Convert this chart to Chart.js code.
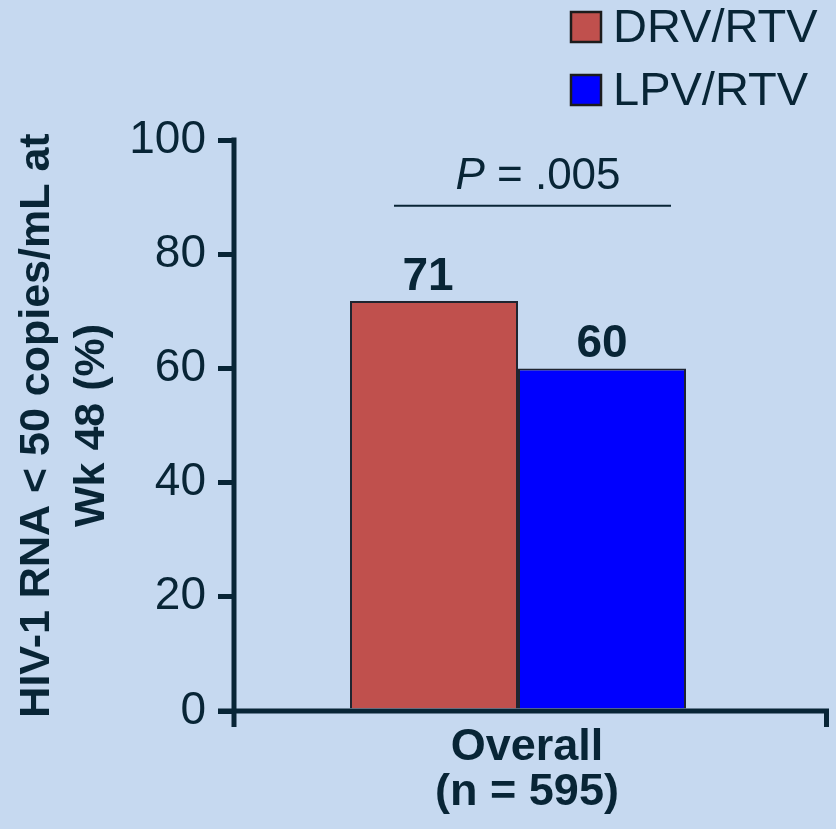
<!DOCTYPE html>
<html>
<head>
<meta charset="utf-8">
<script src="https://cdn.jsdelivr.net/npm/chart.js@4.4.1/dist/chart.umd.min.js"></script>
<style>
   html, body { margin: 0; padding: 0; background: #c6d9f0; }
   #wrap { width: 836px; height: 829px; }
</style>
</head>
<body>
<div id="wrap"><canvas id="chart"></canvas></div>
<script>
// values
const categories = [['Overall', '(n = 595)']];
const seriesNames = ['DRV/RTV', 'LPV/RTV'];
const drvValues = [71.8];
const lpvValues = [60];
const drvLabels = ['71'];
const lpvLabels = ['60'];
const yTitle = ['HIV-1 RNA < 50 copies/mL at', 'Wk 48 (%)'];
const pValue = ['P', ' = .005'];
const pTextAt = 93.5;   // y value of the P text
const pLineAt = 88.5;   // y value of the bracket line

const ink = '#082536';
const fontName = '"Liberation Sans", Arial, sans-serif';

// legend drawn top right, stacked
const legendPlugin = {
   id: 'stackLegend',
   afterDraw(chart) {
      const ctx = chart.ctx;
      ctx.save();
      chart.data.datasets.forEach((ds, i) => {
         const y = 12 + i * 63;
         ctx.fillStyle = ds.backgroundColor;
         ctx.fillRect(571, y, 30, 30);
         ctx.strokeStyle = '#1c1c1c';
         ctx.lineWidth = 2.5;
         ctx.strokeRect(571, y, 30, 30);
         ctx.fillStyle = ink;
         ctx.font = '47px ' + fontName;
         ctx.textBaseline = 'middle';
         ctx.textAlign = 'left';
         ctx.fillText(ds.label, 613, y + 17);
      });
      ctx.restore();
   }
};

// axis lines, value labels and the P value bracket
const extrasPlugin = {
   id: 'extras',
   afterDraw(chart) {
      const ctx = chart.ctx;
      const a = chart.chartArea;
      const yScale = chart.scales.y;
      ctx.save();
      ctx.strokeStyle = ink;
      ctx.lineWidth = 5;
      ctx.beginPath();
      ctx.moveTo(a.left, a.top - 2.5);
      ctx.lineTo(a.left, a.bottom + 16);
      ctx.moveTo(a.left - 16, a.bottom);
      ctx.lineTo(a.right + 27, a.bottom);
      ctx.moveTo(a.right + 24.5, a.bottom);
      ctx.lineTo(a.right + 24.5, a.bottom + 16);
      ctx.stroke();

      // numbers above bars
      const labelSets = [drvLabels, lpvLabels];
      ctx.fillStyle = ink;
      ctx.font = 'bold 46px ' + fontName;
      ctx.textAlign = 'center';
      ctx.textBaseline = 'alphabetic';
      chart.data.datasets.forEach((ds, i) => {
         chart.getDatasetMeta(i).data.forEach((bar, j) => {
            ctx.fillText(labelSets[i][j], bar.x - (i === 0 ? 6 : 0), bar.y - 11);
         });
      });

      // P value
      const bars0 = chart.getDatasetMeta(0).data[0];
      const bars1 = chart.getDatasetMeta(1).data[0];
      const mid = (bars0.x + bars1.x) / 2;
      const ty = yScale.getPixelForValue(pTextAt);
      ctx.font = 'italic 44px ' + fontName;
      const w1 = ctx.measureText(pValue[0]).width;
      ctx.font = '44px ' + fontName;
      const w2 = ctx.measureText(pValue[1]).width;
      let x = mid + 20 - (w1 + w2) / 2;
      ctx.textAlign = 'left';
      ctx.textBaseline = 'middle';
      ctx.font = 'italic 44px ' + fontName;
      ctx.fillText(pValue[0], x, ty);
      ctx.font = '44px ' + fontName;
      ctx.fillText(pValue[1], x + w1, ty);

      const ly = yScale.getPixelForValue(pLineAt);
      ctx.lineWidth = 2;
      ctx.beginPath();
      ctx.moveTo(bars0.x - 40, ly);
      ctx.lineTo(bars1.x + 69, ly);
      ctx.stroke();
      ctx.restore();
   }
};

const ctx = document.getElementById('chart').getContext('2d');
new Chart(ctx, {
   type: 'bar',
   data: {
      labels: categories,
      datasets: [{
         label: seriesNames[0],
         data: drvValues,
         backgroundColor: '#c0504d',
         borderColor: '#1f2530',
         borderWidth: 2
      }, {
         label: seriesNames[1],
         data: lpvValues,
         backgroundColor: '#0000ff',
         borderColor: '#1f2530',
         borderWidth: 2
      }]
   },
   options: {
      responsive: true,
      maintainAspectRatio: false,
      animation: false,
      layout: { padding: { top: 140, right: 34, left: 0, bottom: 0 } },
      datasets: {
         bar: { categoryPercentage: 336 / 568, barPercentage: 1 }
      },
      scales: {
         x: {
            grid: { display: false, drawTicks: false },
            border: { display: false },
            ticks: {
               color: ink,
               font: { family: fontName, size: 45, weight: 'bold', lineHeight: 1.0 },
               padding: 14,
               labelOffset: 9
            },
            afterFit: s => { s.height = 829 - 711; }
         },
         y: {
            min: 0,
            max: 100,
            grid: {
               drawOnChartArea: false,
               drawTicks: true,
               tickLength: 16,
               lineWidth: 5,
               color: ink
            },
            border: { display: false },
            ticks: {
               stepSize: 20,
               color: ink,
               padding: 12,
               font: { family: fontName, size: 46 }
            },
            title: {
               display: true,
               text: yTitle,
               color: ink,
               font: { family: fontName, size: 43, weight: 'bold', lineHeight: 1.28 },
               padding: { top: 10, bottom: 0 }
            },
            afterFit: s => { s.width = 234; }
         }
      },
      plugins: {
         legend: { display: false },
         tooltip: { enabled: false }
      }
   },
   plugins: [legendPlugin, extrasPlugin]
});
</script>
</body>
</html>
